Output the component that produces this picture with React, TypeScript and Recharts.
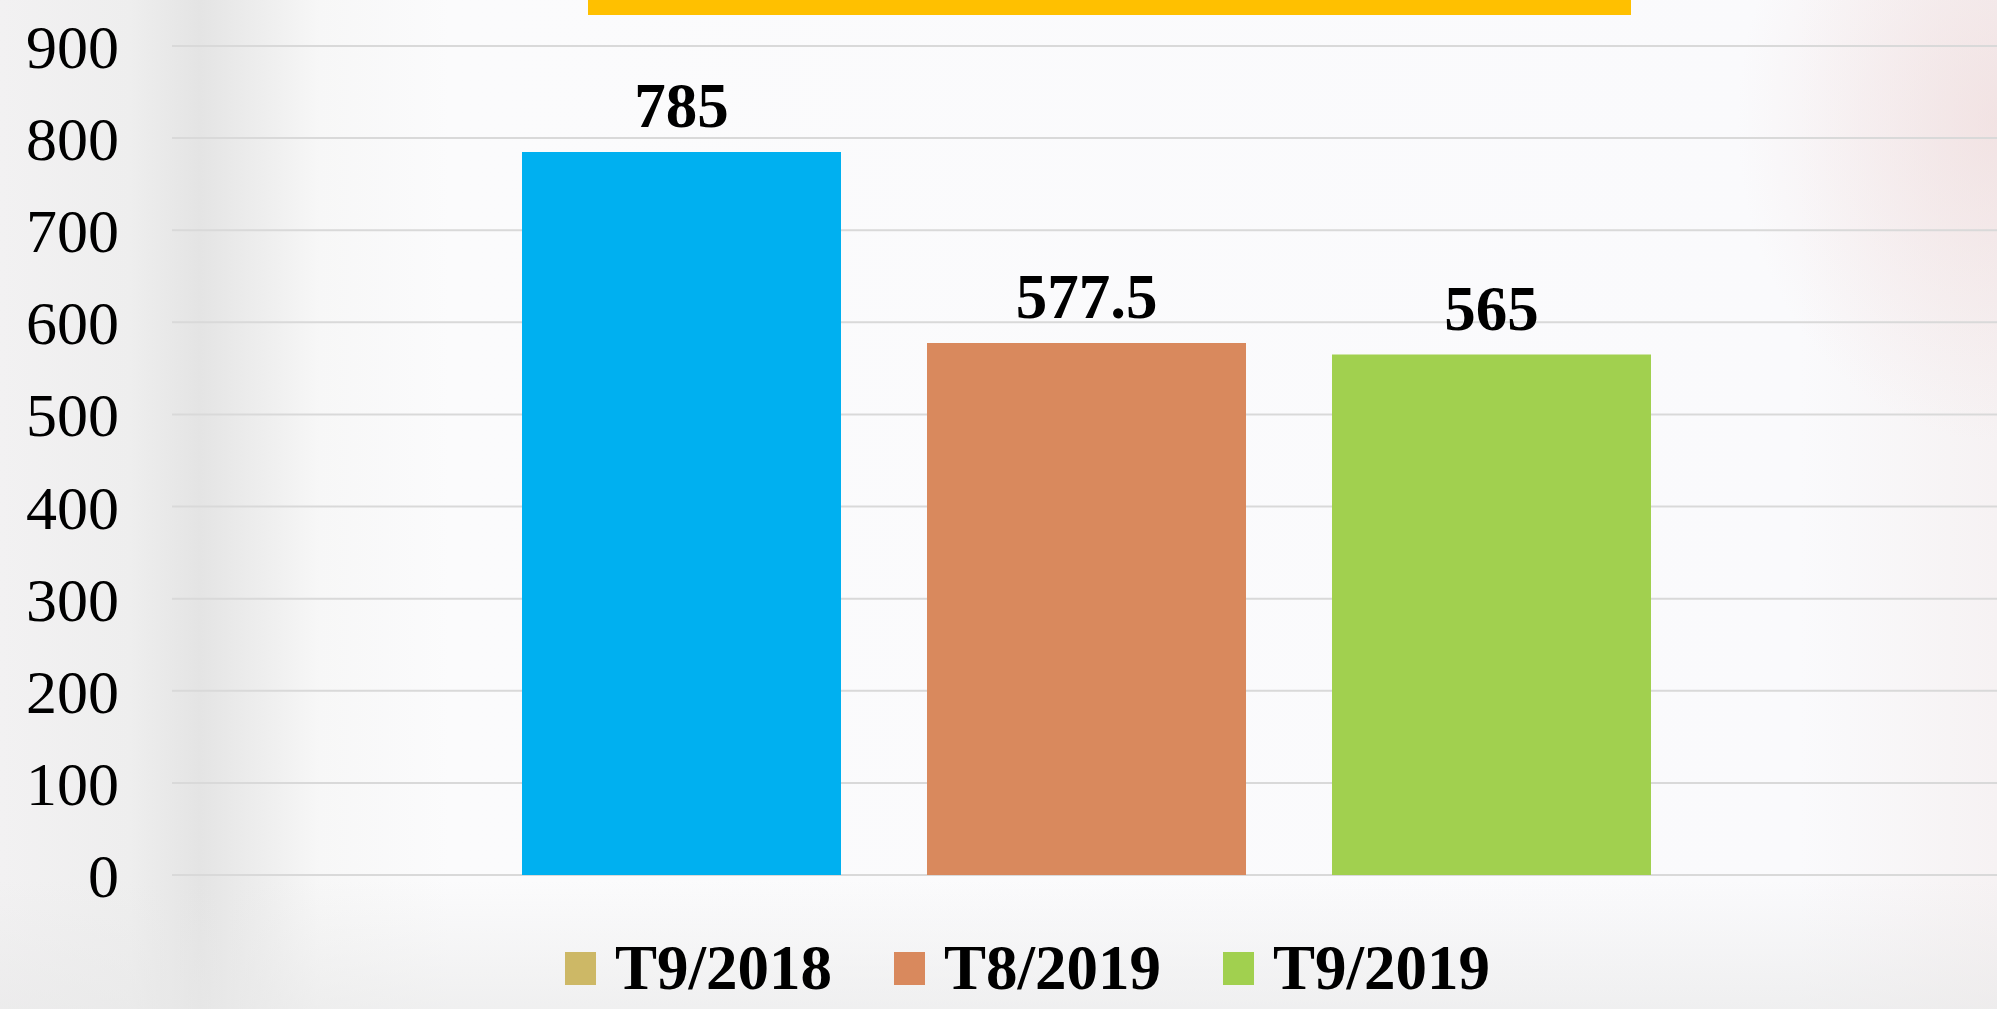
import { BarChart, Bar, XAxis, YAxis, CartesianGrid, Legend, LabelList, Cell } from "recharts";

// one category, three periods drawn as grouped bars
const periods = ["T9/2018", "T8/2019", "T9/2019"];
const values = [785, 577.5, 565];
const barColors = ["#00b0f0", "#d9895d", "#a1d04f"];
const legendColors = ["#cdb866", "#d9895d", "#a1d04f"];
const yTicks = [0, 100, 200, 300, 400, 500, 600, 700, 800, 900];

const row: Record<string, number | string> = { name: "" };
periods.forEach((p, i) => {
  row[p] = values[i];
});
const data = [row];

const serif = "'Liberation Serif', 'Times New Roman', serif";

function LegendBox() {
  return (
    <div style={{ display: "flex", alignItems: "center", paddingLeft: 565, height: 63 }}>
      {periods.map((p, i) => (
        <div key={p} style={{ display: "flex", alignItems: "center", marginRight: 62 }}>
          <div style={{ width: 31, height: 33, background: legendColors[i], marginRight: 19 }} />
          <span style={{ fontFamily: serif, fontWeight: 700, fontSize: 63, lineHeight: "63px", color: "#000" }}>{p}</span>
        </div>
      ))}
    </div>
  );
}

export default function App() {
  return (
    <div
      style={{
        position: "fixed",
        left: 0,
        top: 0,
        width: 1997,
        height: 1009,
        overflow: "hidden",
        background:
          "radial-gradient(ellipse 260px 320px at 100% 12%, rgba(238,214,214,0.55), rgba(238,214,214,0)), " +
          "linear-gradient(to bottom, rgba(230,230,230,0) 880px, rgba(232,232,232,0.6) 1009px), " +
          "linear-gradient(to right, #f2f1f2 0px, #eeeeee 130px, #e4e4e4 200px, #ececec 250px, #f7f7f7 320px, #fbfbfc 450px, #fafafc 1800px, #f6f2f3 1997px)",
      }}
    >
      <div style={{ position: "absolute", left: 588, top: 0, width: 1043, height: 15, background: "#ffc000" }} />
      <BarChart
        width={1997}
        height={1009}
        data={data}
        margin={{ top: 46, right: -4, bottom: 134, left: 2 }}
        barGap={86}
        style={{ position: "absolute", left: 0, top: 0 }}
      >
        <CartesianGrid vertical={false} stroke="#d9d9d9" strokeWidth={2} />
        <XAxis dataKey="name" hide />
        <YAxis
          width={170}
          domain={[0, 900]}
          ticks={yTicks}
          interval={0}
          axisLine={false}
          tickLine={false}
          tickMargin={47}
          tick={{ fontFamily: serif, fontSize: 62, fill: "#000" }}
        />
        <Legend
          verticalAlign="middle"
          align="center"
          layout="horizontal"
          wrapperStyle={{ top: 937, left: 0, width: 1997 }}
          content={() => <LegendBox />}
        />
        {periods.map((p, i) => (
          <Bar key={p} dataKey={p} fill={legendColors[i]} barSize={319} isAnimationActive={false}>
            <Cell fill={barColors[i]} />
            <LabelList
              dataKey={p}
              position="top"
              offset={25}
              style={{ fontFamily: serif, fontSize: 63, fontWeight: 700, fill: "#000" }}
            />
          </Bar>
        ))}
      </BarChart>
    </div>
  );
}
